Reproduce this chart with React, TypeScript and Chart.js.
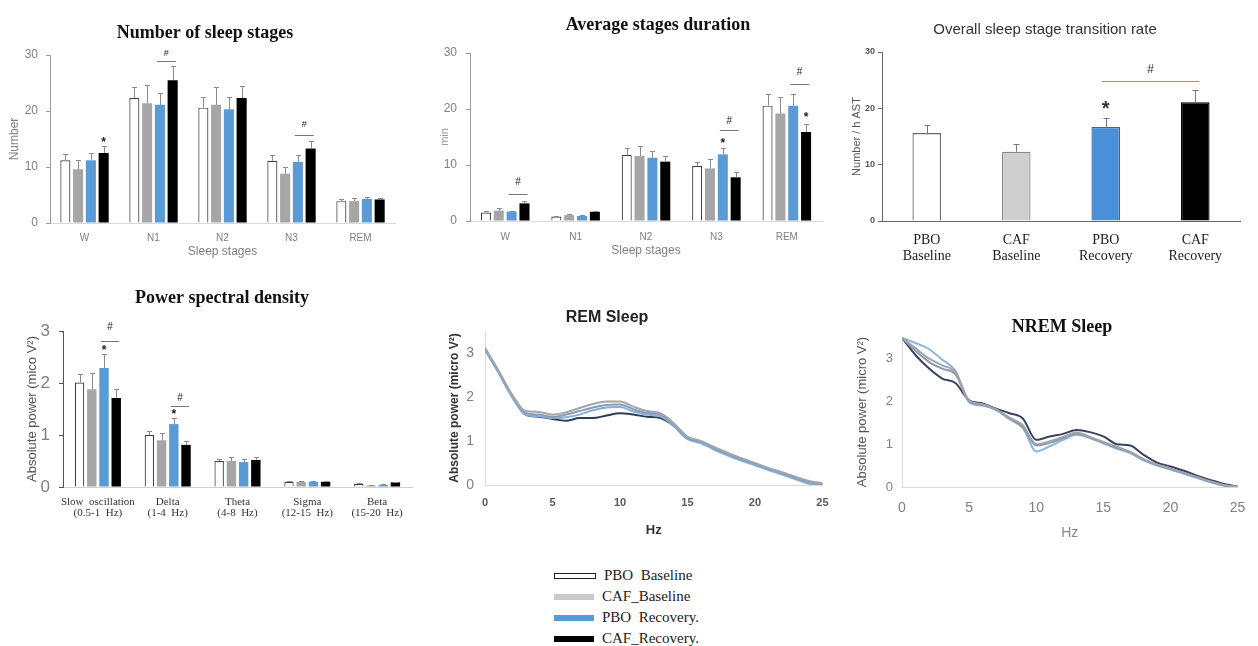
import React, { useEffect, useRef } from 'react';
import { Chart, registerables } from 'chart.js';

Chart.register(...registerables);

// ---------------- data ----------------
const stageLabels = ['W', 'N1', 'N2', 'N3', 'REM'];
const groupLabels = [['PBO', 'Baseline'], ['CAF', 'Baseline'], ['PBO', 'Recovery'], ['CAF', 'Recovery']];
const bandLabels = [
  ['Slow  oscillation', '(0.5-1  Hz)'],
  ['Delta', '(1-4  Hz)'],
  ['Theta', '(4-8  Hz)'],
  ['Sigma', '(12-15  Hz)'],
  ['Beta', '(15-20  Hz)'],
];
const legendLabels = ['PBO  Baseline', 'CAF_Baseline', 'PBO  Recovery.', 'CAF_Recovery.'];

// Number of sleep stages (mean, SEM)
const countPBOBase = [11.2, 22.3, 20.6, 11.1, 3.9];
const countCAFBase = [9.6, 21.4, 21.1, 8.8, 3.9];
const countPBORec = [11.2, 21.1, 20.3, 10.9, 4.3];
const countCAFRec = [12.5, 25.5, 22.3, 13.3, 4.2];
const countSemPBOBase = [1.2, 2.0, 1.9, 1.1, 0.4];
const countSemCAFBase = [1.6, 3.2, 3.2, 1.2, 0.5];
const countSemPBORec = [1.3, 2.2, 2.2, 1.3, 0.3];
const countSemCAFRec = [1.3, 2.6, 2.2, 1.4, 0.3];
const countStars = [{ ds: 3, idx: 0, v: 14.8 }];
const countHashes = [
  { a: [2, 1], b: [3, 1], lineV: 28.9, textV: 30.2 },
  { a: [2, 3], b: [3, 3], lineV: 15.7, textV: 17.5 },
];

// Average stages duration (min)
const durPBOBase = [1.5, 0.8, 11.8, 9.8, 20.6];
const durCAFBase = [1.85, 1.05, 11.6, 9.4, 19.2];
const durPBORec = [1.7, 0.9, 11.3, 11.9, 20.6];
const durCAFRec = [3.15, 1.65, 10.6, 7.8, 15.9];
const durSemPBOBase = [0.2, 0.15, 1.3, 0.8, 2.0];
const durSemCAFBase = [0.4, 0.2, 1.8, 1.6, 2.9];
const durSemPBORec = [0.15, 0.1, 1.2, 1.2, 2.0];
const durSemCAFRec = [0.4, 0.12, 1.0, 0.9, 1.5];
const durStars = [{ ds: 2, idx: 3, v: 14.4 }, { ds: 3, idx: 4, v: 18.9 }];
const durHashes = [
  { a: [2, 0], b: [3, 0], lineV: 4.9, textV: 7.0 },
  { a: [2, 3], b: [3, 3], lineV: 16.3, textV: 17.9 },
  { a: [2, 4], b: [3, 4], lineV: 24.4, textV: 26.5 },
];

// Overall transition rate
const transRate = [15.6, 12.3, 16.7, 21.1];
const transSem = [1.4, 1.3, 1.5, 2.2];
const transStars = [{ ds: 0, idx: 2, v: 20.7 }];
const transHashes = [{ a: [0, 2], b: [0, 3], lineV: 24.9, textV: 26.8 }];

// Power spectral density
const psdPBOBase = [2.01, 1.0, 0.5, 0.1, 0.06];
const psdCAFBase = [1.88, 0.9, 0.5, 0.1, 0.03];
const psdPBORec = [2.29, 1.21, 0.48, 0.1, 0.04];
const psdCAFRec = [1.71, 0.81, 0.52, 0.1, 0.09];
const psdSemPBOBase = [0.16, 0.08, 0.03, 0.01, 0.01];
const psdSemCAFBase = [0.31, 0.14, 0.08, 0.02, 0.01];
const psdSemPBORec = [0.26, 0.12, 0.06, 0.01, 0.01];
const psdSemCAFRec = [0.17, 0.08, 0.05, 0.01, 0.01];
const psdStars = [{ ds: 2, idx: 0, v: 2.67 }, { ds: 2, idx: 1, v: 1.44 }];
const psdHashes = [
  { a: [2, 0], b: [3, 0], lineV: 2.81, textV: 3.07 },
  { a: [2, 1], b: [3, 1], lineV: 1.56, textV: 1.71 },
];

// Spectra (Hz 0..25)
const hz = [0, 1, 2, 3, 4, 5, 6, 7, 8, 9, 10, 11, 12, 13, 14, 15, 16, 17, 18, 19, 20, 21, 22, 23, 24, 25];
const hzTicks = [0, 5, 10, 15, 20, 25];
const powerTicks = [0, 1, 2, 3];
const countTicks = [0, 10, 20, 30];

const remPBOBase = [3.12, 2.6, 2.06, 1.68, 1.66, 1.6, 1.65, 1.75, 1.84, 1.9, 1.9, 1.78, 1.68, 1.63, 1.4, 1.1, 1.0, 0.86, 0.73, 0.61, 0.5, 0.39, 0.29, 0.19, 0.09, 0.04];
const remCAFBase = [3.1, 2.58, 2.04, 1.64, 1.6, 1.55, 1.6, 1.68, 1.76, 1.82, 1.83, 1.72, 1.64, 1.6, 1.37, 1.08, 0.98, 0.84, 0.71, 0.59, 0.48, 0.37, 0.27, 0.17, 0.07, 0.02];
const remPBORec = [3.06, 2.55, 2.0, 1.6, 1.56, 1.52, 1.54, 1.6, 1.7, 1.76, 1.77, 1.67, 1.6, 1.56, 1.33, 1.04, 0.95, 0.8, 0.67, 0.55, 0.45, 0.34, 0.24, 0.13, 0.03, 0.0];
const remCAFRec = [3.1, 2.57, 2.02, 1.6, 1.55, 1.5, 1.46, 1.52, 1.52, 1.58, 1.63, 1.6, 1.55, 1.52, 1.34, 1.07, 0.97, 0.83, 0.7, 0.58, 0.48, 0.37, 0.27, 0.17, 0.06, 0.02];

const nremPBOBase = [3.48, 3.24, 3.0, 2.84, 2.67, 2.02, 1.93, 1.81, 1.62, 1.44, 1.0, 1.07, 1.17, 1.27, 1.17, 1.05, 0.94, 0.82, 0.65, 0.52, 0.43, 0.33, 0.23, 0.13, 0.05, 0.0];
const nremCAFBase = [3.48, 3.18, 2.92, 2.76, 2.62, 2.0, 1.91, 1.8, 1.6, 1.4, 0.97, 1.03, 1.14, 1.25, 1.15, 1.03, 0.92, 0.81, 0.64, 0.51, 0.42, 0.32, 0.22, 0.12, 0.04, 0.0];
const nremPBORec = [3.48, 3.36, 3.22, 2.97, 2.7, 1.98, 1.9, 1.8, 1.58, 1.38, 0.83, 0.95, 1.1, 1.22, 1.14, 1.02, 0.89, 0.79, 0.62, 0.5, 0.41, 0.31, 0.21, 0.11, 0.03, 0.0];
const nremCAFRec = [3.48, 3.08, 2.77, 2.53, 2.42, 2.02, 1.95, 1.83, 1.72, 1.6, 1.1, 1.18, 1.24, 1.33, 1.28, 1.18, 1.0, 0.97, 0.75, 0.57, 0.48, 0.38, 0.26, 0.16, 0.07, 0.01];

// ---------------- styling ----------------
const SANS = '"Liberation Sans", Arial, sans-serif';
const SERIF = '"Liberation Serif", "Times New Roman", serif';
Chart.defaults.font.family = SANS;

const barFill = ['#ffffff', '#a6a6a6', '#5b9bd5', '#000000'];
const barEdge = ['#404040', '#a6a6a6', '#5b9bd5', '#000000'];
const remColors = ['#a3a6ad', '#8d9bb2', '#80b0de', '#2e3a57'];
const nremColors = ['#a0a3aa', '#8e97a8', '#8ab6de', '#384360'];

type Box = { left: number; top: number; width: number; height: number };
type Area = { x0: number; x1: number; yTop: number; yBot: number };
type Mark = { ds: number; idx: number; v: number };
type Hash = { a: number[]; b: number[]; lineV: number; textV: number };

function layoutPad(box: Box, area: Area) {
  return { padding: { left: 0, top: area.yTop - box.top, right: box.left + box.width - area.x1, bottom: 0 } };
}

function yScale(box: Box, area: Area, o: any) {
  const tlh = o.titleSize * 1.2;
  return {
    type: 'linear',
    position: 'left',
    min: o.min,
    max: o.max,
    afterBuildTicks: (s: any) => {
      s.ticks = o.ticks.map((v: number) => ({ value: v }));
    },
    afterFit: (s: any) => {
      s.width = area.x0 - box.left;
    },
    grid: {
      display: o.tickLen > 0,
      drawOnChartArea: false,
      drawTicks: o.tickLen > 0,
      tickLength: o.tickLen,
      color: o.tickMarkColor || o.borderColor,
    },
    border: { display: true, color: o.borderColor, width: 1 },
    ticks: {
      font: { family: o.tickFamily || SANS, size: o.tickSize, weight: o.tickWeight || 'normal' },
      color: o.tickColor,
      padding: area.x0 - o.tickLen - o.labelRight,
    },
    title: {
      display: true,
      text: o.title,
      color: o.titleColor,
      font: { family: SANS, size: o.titleSize, weight: o.titleWeight || 'normal' },
      padding: { top: o.titleX - box.left - tlh / 2, bottom: 0 },
    },
  };
}

function xScale(box: Box, area: Area, o: any) {
  const lhMul = o.lineHeight || 1.2;
  const lh = o.size * lhMul;
  const base: any = {
    position: 'bottom',
    afterFit: (s: any) => {
      s.height = box.top + box.height - area.yBot;
    },
    grid: { display: false, drawTicks: false, tickLength: 0 },
    border: { display: true, color: o.borderColor, width: 1 },
    ticks: {
      font: { family: o.family || SANS, size: o.size, weight: o.weight || 'normal', lineHeight: lhMul },
      color: o.color,
      padding: o.labelCy - area.yBot - lh / 2,
      maxRotation: 0,
      minRotation: 0,
      autoSkip: false,
    },
    title: o.title
      ? {
          display: true,
          text: o.title,
          color: o.titleColor,
          font: { family: SANS, size: o.titleSize, weight: o.titleWeight || 'normal' },
          padding: { top: 0, bottom: box.top + box.height - o.titleCy - (o.titleSize * 1.2) / 2 },
        }
      : { display: false },
  };
  if (o.linear) {
    base.type = 'linear';
    base.min = o.min;
    base.max = o.max;
    base.afterBuildTicks = (s: any) => {
      s.ticks = o.ticks.map((v: number) => ({ value: v }));
    };
  } else {
    base.type = 'category';
    base.offset = true;
  }
  return base;
}

function titlePlugin(box: Box, t: any) {
  return {
    id: 'panelTitle',
    afterDraw(chart: any) {
      const ctx = chart.ctx;
      ctx.save();
      ctx.font = `${t.weight || 'normal'} ${t.size}px ${t.family}`;
      ctx.fillStyle = t.color || '#111';
      ctx.textAlign = 'center';
      ctx.textBaseline = 'middle';
      ctx.fillText(t.text, t.x - box.left, t.y - box.top);
      ctx.restore();
    },
  };
}

function errorPlugin(sems: number[][], color: string, capHalf: number) {
  return {
    id: 'errorBars',
    afterDatasetsDraw(chart: any) {
      const ctx = chart.ctx;
      const ys = chart.scales.y;
      ctx.save();
      ctx.strokeStyle = color;
      ctx.lineWidth = 1;
      chart.data.datasets.forEach((ds: any, d: number) => {
        const meta = chart.getDatasetMeta(d);
        meta.data.forEach((el: any, i: number) => {
          const v = ds.data[i] as number;
          const top = Math.round(ys.getPixelForValue(v + sems[d][i])) + 0.5;
          const x = Math.round(el.x) + 0.5;
          ctx.beginPath();
          ctx.moveTo(x, el.y);
          ctx.lineTo(x, top);
          ctx.moveTo(x - capHalf, top);
          ctx.lineTo(x + capHalf, top);
          ctx.stroke();
        });
      });
      ctx.restore();
    },
  };
}

function marksPlugin(stars: Mark[], hashes: Hash[], s: any) {
  return {
    id: 'sigMarks',
    afterDatasetsDraw(chart: any) {
      const ctx = chart.ctx;
      const ys = chart.scales.y;
      const px = (p: number[]) => chart.getDatasetMeta(p[0]).data[p[1]].x;
      ctx.save();
      ctx.textAlign = 'center';
      ctx.textBaseline = 'middle';
      ctx.fillStyle = s.color;
      ctx.font = s.starFont;
      stars.forEach((m) => {
        const x = chart.getDatasetMeta(m.ds).data[m.idx].x;
        ctx.fillText('*', x, ys.getPixelForValue(m.v) + s.starDy);
      });
      ctx.font = s.hashFont;
      hashes.forEach((h) => {
        const xa = px(h.a) - s.ext;
        const xb = px(h.b) + s.ext;
        const ly = Math.round(ys.getPixelForValue(h.lineV)) + 0.5;
        ctx.strokeStyle = s.lineColor;
        ctx.lineWidth = 1;
        ctx.beginPath();
        ctx.moveTo(xa, ly);
        ctx.lineTo(xb, ly);
        ctx.stroke();
        ctx.fillText('#', (xa + xb) / 2, ys.getPixelForValue(h.textV));
      });
      ctx.restore();
    },
  };
}

function groupedBars(series: number[][], cp: number, bp: number) {
  return series.map((d, i) => ({
    label: legendLabels[i],
    data: d,
    backgroundColor: barFill[i],
    borderColor: barEdge[i],
    borderWidth: i === 0 ? 1.2 : 0,
    categoryPercentage: cp,
    barPercentage: bp,
  }));
}

const baseOptions = {
  responsive: true,
  maintainAspectRatio: false,
  animation: false,
  events: [],
};

// ---------------- panels ----------------
const box1: Box = { left: 0, top: 0, width: 420, height: 265 };
const area1: Area = { x0: 50, x1: 395, yTop: 55, yBot: 223 };
function buildCount() {
  return {
    type: 'bar',
    data: {
      labels: stageLabels,
      datasets: groupedBars([countPBOBase, countCAFBase, countPBORec, countCAFRec], 0.74, 0.79),
    },
    options: {
      ...baseOptions,
      layout: layoutPad(box1, area1),
      plugins: { legend: { display: false }, tooltip: { enabled: false } },
      scales: {
        x: xScale(box1, area1, { size: 10, color: '#7f7f7f', labelCy: 238, borderColor: '#d9d9d9', title: 'Sleep stages', titleSize: 12, titleColor: '#7f7f7f', titleCy: 252 }),
        y: yScale(box1, area1, { min: 0, max: 30, ticks: countTicks, tickSize: 12, tickColor: '#7f7f7f', labelRight: 38, tickLen: 4, borderColor: '#9a9a9a', title: 'Number', titleSize: 12, titleColor: '#7f7f7f', titleX: 15 }),
      },
    },
    plugins: [
      titlePlugin(box1, { text: 'Number of sleep stages', x: 205, y: 33, size: 18, weight: 'bold', family: SERIF }),
      errorPlugin([countSemPBOBase, countSemCAFBase, countSemPBORec, countSemCAFRec], '#8a8a8a', 2.5),
      marksPlugin(countStars, countHashes, { color: '#222', starFont: `bold 12px ${SANS}`, starDy: 3, hashFont: `9px ${SANS}`, lineColor: '#777', ext: 3 }),
    ],
  };
}

const box2: Box = { left: 420, top: 0, width: 420, height: 265 };
const area2: Area = { x0: 470, x1: 822, yTop: 53, yBot: 221 };
function buildDuration() {
  return {
    type: 'bar',
    data: {
      labels: stageLabels,
      datasets: groupedBars([durPBOBase, durCAFBase, durPBORec, durCAFRec], 0.73, 0.78),
    },
    options: {
      ...baseOptions,
      layout: layoutPad(box2, area2),
      plugins: { legend: { display: false }, tooltip: { enabled: false } },
      scales: {
        x: xScale(box2, area2, { size: 10, color: '#7f7f7f', labelCy: 237, borderColor: '#d9d9d9', title: 'Sleep stages', titleSize: 12, titleColor: '#7f7f7f', titleCy: 251 }),
        y: yScale(box2, area2, { min: 0, max: 30, ticks: countTicks, tickSize: 12, tickColor: '#7f7f7f', labelRight: 457, tickLen: 4, borderColor: '#9a9a9a', title: 'min', titleSize: 11, titleColor: '#9a9a9a', titleX: 445 }),
      },
    },
    plugins: [
      titlePlugin(box2, { text: 'Average stages duration', x: 658, y: 25, size: 18, weight: 'bold', family: SERIF }),
      errorPlugin([durSemPBOBase, durSemCAFBase, durSemPBORec, durSemCAFRec], '#8a8a8a', 2.5),
      marksPlugin(durStars, durHashes, { color: '#222', starFont: `bold 12px ${SANS}`, starDy: 3, hashFont: `10px ${SANS}`, lineColor: '#777', ext: 3 }),
    ],
  };
}

const box3: Box = { left: 840, top: 0, width: 418, height: 270 };
const area3: Area = { x0: 882, x1: 1240, yTop: 52, yBot: 221 };
function buildTransition() {
  return {
    type: 'bar',
    data: {
      labels: groupLabels,
      datasets: [
        {
          label: 'Transition rate',
          data: transRate,
          backgroundColor: ['#ffffff', '#cfcfcf', '#4a90d9', '#000000'],
          borderColor: ['#6a6a6a', '#8a8a8a', '#2f6aa6', '#000000'],
          borderWidth: 1.3,
          categoryPercentage: 1,
          barPercentage: 0.32,
        },
      ],
    },
    options: {
      ...baseOptions,
      layout: layoutPad(box3, area3),
      plugins: { legend: { display: false }, tooltip: { enabled: false } },
      scales: {
        x: xScale(box3, area3, { family: SERIF, size: 14, color: '#222', labelCy: 240, borderColor: '#666' }),
        y: yScale(box3, area3, { min: 0, max: 30, ticks: countTicks, tickSize: 9, tickWeight: 'bold', tickColor: '#555', labelRight: 875, tickLen: 4, borderColor: '#666', title: 'Number / h AST', titleSize: 11, titleColor: '#555', titleX: 857 }),
      },
    },
    plugins: [
      titlePlugin(box3, { text: 'Overall sleep stage transition rate', x: 1045, y: 30, size: 15, weight: 'normal', family: SANS, color: '#333' }),
      errorPlugin([transSem], '#777', 3),
      marksPlugin(transStars, transHashes, { color: '#333', starFont: `bold 20px ${SANS}`, starDy: 5, hashFont: `12px ${SANS}`, lineColor: '#6f9fd0', ext: 4 }),
    ],
  };
}

const box4: Box = { left: 0, top: 280, width: 420, height: 245 };
const area4: Area = { x0: 63, x1: 412, yTop: 331, yBot: 487 };
function buildPSD() {
  return {
    type: 'bar',
    data: {
      labels: bandLabels,
      datasets: groupedBars([psdPBOBase, psdCAFBase, psdPBORec, psdCAFRec], 0.7, 0.77),
    },
    options: {
      ...baseOptions,
      layout: layoutPad(box4, area4),
      plugins: { legend: { display: false }, tooltip: { enabled: false } },
      scales: {
        x: xScale(box4, area4, { family: SERIF, size: 11, lineHeight: 1.05, color: '#333', labelCy: 502, borderColor: '#d0d0d0' }),
        y: yScale(box4, area4, { min: 0, max: 3, ticks: powerTicks, tickSize: 17, tickColor: '#7f7f7f', labelRight: 50, tickLen: 4, borderColor: '#555', title: 'Absolute power (mico V²)', titleSize: 13, titleColor: '#555', titleX: 32 }),
      },
    },
    plugins: [
      titlePlugin(box4, { text: 'Power spectral density', x: 222, y: 298, size: 18, weight: 'bold', family: SERIF }),
      errorPlugin([psdSemPBOBase, psdSemCAFBase, psdSemPBORec, psdSemCAFRec], '#8a8a8a', 2.5),
      marksPlugin(psdStars, psdHashes, { color: '#222', starFont: `bold 12px ${SANS}`, starDy: 3, hashFont: `10px ${SANS}`, lineColor: '#777', ext: 3 }),
    ],
  };
}

function lineSets(series: number[][], colors: string[]) {
  return series.map((d, i) => ({
    label: legendLabels[i],
    data: hz.map((h, k) => ({ x: h, y: d[k] })),
    borderColor: colors[i],
    borderWidth: 2,
    pointRadius: 0,
    fill: false,
    cubicInterpolationMode: 'monotone',
  }));
}

const box5: Box = { left: 386, top: 300, width: 454, height: 245 };
const area5: Area = { x0: 485, x1: 828, yTop: 331, yBot: 485 };
function buildREM() {
  return {
    type: 'line',
    data: { datasets: lineSets([remPBOBase, remCAFBase, remPBORec, remCAFRec], remColors) },
    options: {
      ...baseOptions,
      layout: layoutPad(box5, area5),
      plugins: { legend: { display: false }, tooltip: { enabled: false } },
      scales: {
        x: xScale(box5, area5, { linear: true, min: 0, max: 25, ticks: hzTicks, size: 11, weight: 'bold', color: '#595959', labelCy: 503, borderColor: '#d9d9d9', title: 'Hz', titleSize: 13, titleWeight: 'bold', titleColor: '#333', titleCy: 530 }),
        y: yScale(box5, area5, { min: 0, max: 3.5, ticks: powerTicks, tickSize: 14, tickColor: '#808080', labelRight: 474, tickLen: 0, borderColor: '#d9d9d9', title: 'Absolute power (micro V²)', titleSize: 12, titleWeight: 'bold', titleColor: '#333', titleX: 455 }),
      },
    },
    plugins: [titlePlugin(box5, { text: 'REM Sleep', x: 607, y: 318, size: 16, weight: 'bold', family: SANS, color: '#222' })],
  };
}

const box6: Box = { left: 840, top: 300, width: 418, height: 245 };
const area6: Area = { x0: 902, x1: 1245, yTop: 337, yBot: 487 };
function buildNREM() {
  return {
    type: 'line',
    data: { datasets: lineSets([nremPBOBase, nremCAFBase, nremPBORec, nremCAFRec], nremColors) },
    options: {
      ...baseOptions,
      layout: layoutPad(box6, area6),
      plugins: { legend: { display: false }, tooltip: { enabled: false } },
      scales: {
        x: xScale(box6, area6, { linear: true, min: 0, max: 25, ticks: hzTicks, size: 14, color: '#808080', labelCy: 508, borderColor: '#d9d9d9', title: 'Hz', titleSize: 14, titleColor: '#8a8a8a', titleCy: 533 }),
        y: yScale(box6, area6, { min: 0, max: 3.5, ticks: powerTicks, tickSize: 13, tickColor: '#808080', labelRight: 893, tickLen: 0, borderColor: '#d9d9d9', title: 'Absolute power (micro V²)', titleSize: 13, titleColor: '#555', titleX: 862 }),
      },
    },
    plugins: [titlePlugin(box6, { text: 'NREM Sleep', x: 1062, y: 327, size: 18, weight: 'bold', family: SERIF })],
  };
}

function ChartPanel({ box, build }: { box: Box; build: () => any }) {
  const ref = useRef<HTMLCanvasElement>(null);
  useEffect(() => {
    const chart = new Chart(ref.current as HTMLCanvasElement, build());
    return () => chart.destroy();
  }, []);
  return (
    <div style={{ position: 'absolute', left: box.left, top: box.top, width: box.width, height: box.height }}>
      <canvas ref={ref} />
    </div>
  );
}

const legendSwatches = [
  { background: '#ffffff', border: '1px solid #222', height: 4 },
  { background: '#c8c8c8', border: 'none', height: 6 },
  { background: '#5b9bd5', border: 'none', height: 6 },
  { background: '#000000', border: 'none', height: 6 },
];

export default function App() {
  return (
    <div style={{ position: 'absolute', left: 0, top: 0, width: 1258, height: 646, background: '#ffffff', overflow: 'hidden' }}>
      <ChartPanel box={box1} build={buildCount} />
      <ChartPanel box={box2} build={buildDuration} />
      <ChartPanel box={box3} build={buildTransition} />
      <ChartPanel box={box4} build={buildPSD} />
      <ChartPanel box={box5} build={buildREM} />
      <ChartPanel box={box6} build={buildNREM} />
      <div style={{ position: 'absolute', left: 554, top: 565, fontFamily: SERIF, fontSize: 15, color: '#222' }}>
        {legendLabels.map((t, i) => (
          <div key={t} style={{ display: 'flex', alignItems: 'center', height: 21 }}>
            <div
              style={{
                width: 40,
                height: legendSwatches[i].height,
                background: legendSwatches[i].background,
                border: legendSwatches[i].border,
                marginRight: 8,
              }}
            />
            <span style={{ whiteSpace: 'pre' }}>{t}</span>
          </div>
        ))}
      </div>
    </div>
  );
}
